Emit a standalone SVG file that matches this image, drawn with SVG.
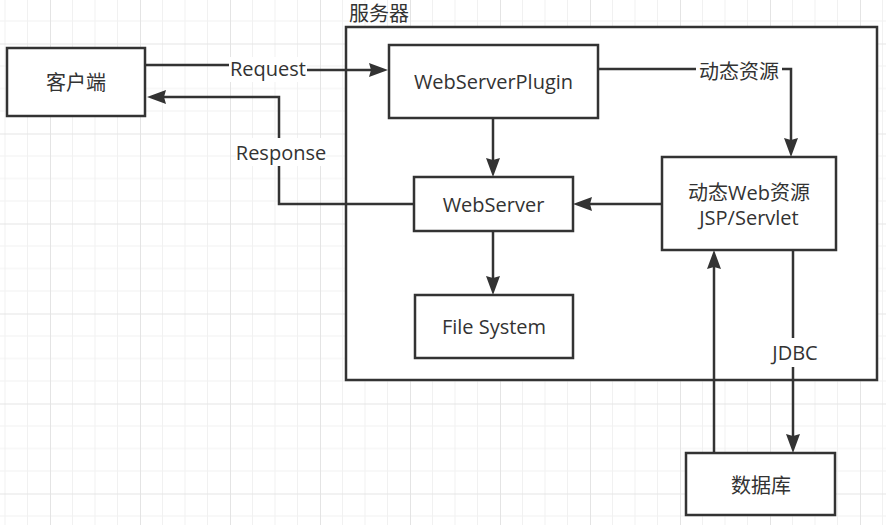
<svg xmlns="http://www.w3.org/2000/svg" width="886" height="525" viewBox="0 0 886 525">
<defs>
<pattern id="grid" patternUnits="userSpaceOnUse" x="50" y="43.5" width="90" height="90">
<rect x="0" y="0" width="90" height="90" fill="#ffffff"/>
<g fill="#f1f1f1">
<rect x="22" y="0" width="1" height="90"/><rect x="44.5" y="0" width="1" height="90"/><rect x="67" y="0" width="1" height="90"/>
<rect x="0" y="22" width="90" height="1"/><rect x="0" y="44.5" width="90" height="1"/><rect x="0" y="67" width="90" height="1"/>
</g>
<g fill="#e4e4e4">
<rect x="0" y="0" width="1" height="90"/><rect x="0" y="0" width="90" height="1"/>
</g>
</pattern>
<marker id="arr" markerUnits="userSpaceOnUse" viewBox="0 0 19 14" refX="14" refY="7" markerWidth="19" markerHeight="14" orient="auto">
<path d="M0,0 L19,7 L0,14 L2,7 Z" fill="#333333"/>
</marker>
</defs>
<style>
.box{fill:#ffffff;stroke:#333333;stroke-width:2.5}
.edge{fill:none;stroke:#333333;stroke-width:2.5}
.t{font-family:"Open Sans","Noto Sans CJK SC",sans-serif;font-size:20px;fill:#333333;text-anchor:middle}
.lbl{fill:#ffffff}
</style>
<rect x="0" y="0" width="886" height="525" fill="url(#grid)"/>

<g id="server">
<rect class="box" x="346" y="27" width="531" height="353"/>
<text class="t" x="349" y="21" style="text-anchor:start">服务器</text>
</g>

<g id="connectors">
<path class="edge" d="M145,65 H268 V70 H383" marker-end="url(#arr)"/>
<path class="edge" d="M414,204 H279 V97 H152" marker-end="url(#arr)"/>
<path class="edge" d="M493,118 V172" marker-end="url(#arr)"/>
<path class="edge" d="M493,231 V290" marker-end="url(#arr)"/>
<path class="edge" d="M598,69 H791 V152" marker-end="url(#arr)"/>
<path class="edge" d="M662,204 H578" marker-end="url(#arr)"/>
<path class="edge" d="M714,453 V255" marker-end="url(#arr)"/>
<path class="edge" d="M793,250 V448" marker-end="url(#arr)"/>
<rect class="lbl" x="229" y="57" width="78" height="25"/>
<text class="t" x="268" y="76">Request</text>
<rect class="lbl" x="236" y="138" width="90" height="28"/>
<text class="t" x="281" y="160">Response</text>
<rect class="lbl" x="696" y="58" width="86" height="26"/>
<text class="t" x="739" y="78.5">动态资源</text>
<rect class="lbl" x="771" y="338" width="48" height="29"/>
<text class="t" x="795" y="359.5">JDBC</text>
</g>

<g id="client">
<rect class="box" x="7" y="48" width="138" height="68"/>
<text class="t" x="76" y="89.5">客户端</text>
</g>
<g id="webserverplugin">
<rect class="box" x="389" y="45" width="209" height="73"/>
<text class="t" x="493.5" y="89">WebServerPlugin</text>
</g>
<g id="webserver">
<rect class="box" x="414" y="177" width="159" height="54"/>
<text class="t" x="493.5" y="211.5">WebServer</text>
</g>
<g id="filesystem">
<rect class="box" x="415" y="295" width="158" height="63"/>
<text class="t" x="494" y="334">File System</text>
</g>
<g id="dynamic">
<rect class="box" x="662" y="157" width="174" height="93"/>
<text class="t" x="749" y="200">动态Web资源</text>
<text class="t" x="749" y="225">JSP/Servlet</text>
</g>
<g id="database">
<rect class="box" x="686" y="453" width="149" height="62"/>
<text class="t" x="761" y="492.5">数据库</text>
</g>
</svg>
